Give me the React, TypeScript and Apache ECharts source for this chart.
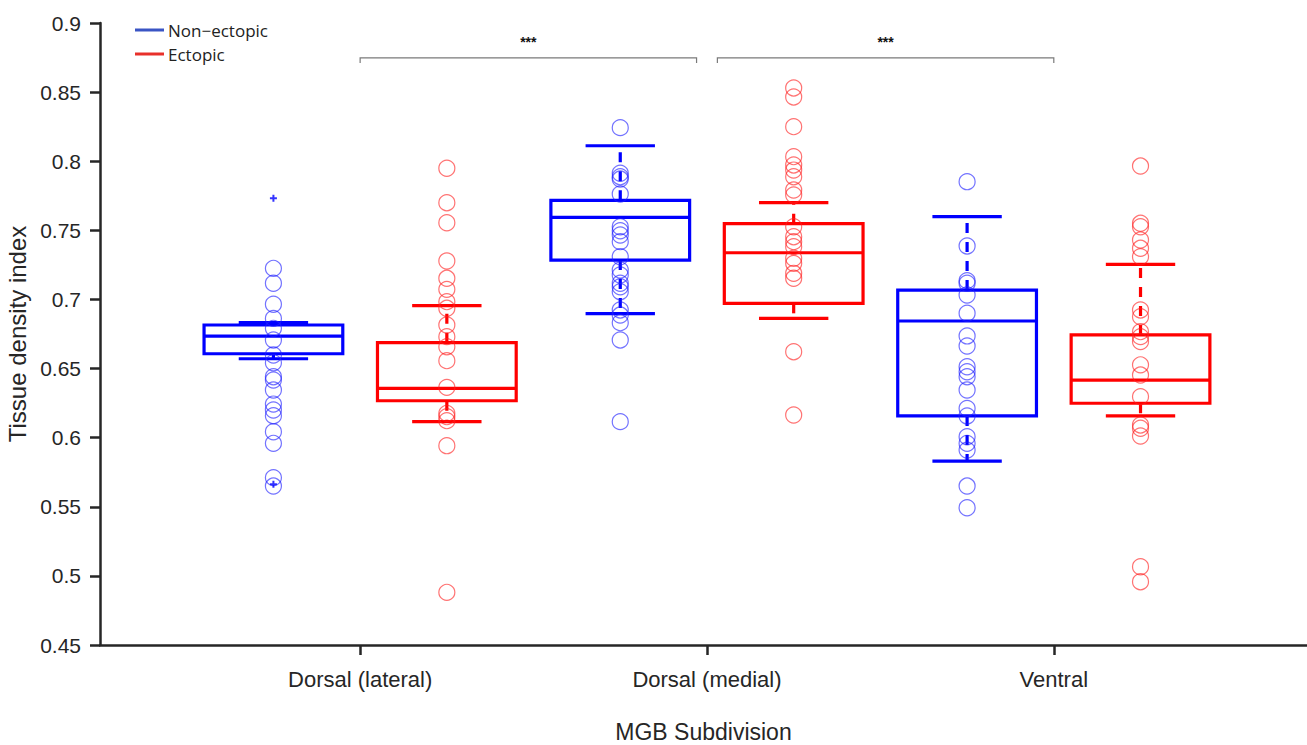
import React, { useEffect, useRef } from "react";
import * as echarts from "echarts";

const categories = ["Dorsal (lateral)", "Dorsal (medial)", "Ventral"];
const groupNames = ["Non\u2212ectopic", "Ectopic"];
const groupOffsets = [-0.25, 0.25];

// per category: [lower whisker, Q1, median, Q3, upper whisker]
const nonEctopicBoxes = [
  [0.6571, 0.6607, 0.6735, 0.6815, 0.6832],
  [0.6897, 0.7285, 0.7594, 0.7717, 0.8112],
  [0.5831, 0.6157, 0.6844, 0.7068, 0.7599],
];
const ectopicBoxes = [
  [0.6116, 0.6267, 0.6357, 0.6687, 0.6955],
  [0.6863, 0.6972, 0.7338, 0.7548, 0.77],
  [0.6157, 0.6249, 0.6417, 0.6743, 0.7254],
];

const nonEctopicOutliers = [[0.7732, 0.5663], [], []];
const ectopicOutliers = [[], [], []];

const nonEctopicDL = [0.7225, 0.7117, 0.6965, 0.6863, 0.6791, 0.6707, 0.6598, 0.6542, 0.6441, 0.6417, 0.6345, 0.6243, 0.62, 0.6159, 0.6043, 0.5959, 0.5711, 0.565];
const nonEctopicDM = [0.8243, 0.7913, 0.7888, 0.7871, 0.7763, 0.7526, 0.7497, 0.7466, 0.7418, 0.7309, 0.7213, 0.7177, 0.7117, 0.7092, 0.7056, 0.6924, 0.6887, 0.6832, 0.6707, 0.6116];
const nonEctopicV = [0.7852, 0.7387, 0.7136, 0.7117, 0.7032, 0.69, 0.6736, 0.6663, 0.6513, 0.6477, 0.6441, 0.6345, 0.6212, 0.6157, 0.6007, 0.5959, 0.591, 0.565, 0.5493];

const ectopicDL = [0.7949, 0.77, 0.7555, 0.7278, 0.7153, 0.7073, 0.6984, 0.6936, 0.6815, 0.6731, 0.6658, 0.6557, 0.6364, 0.6176, 0.6152, 0.6123, 0.5942, 0.4881];
const ectopicDM = [0.853, 0.8465, 0.825, 0.8033, 0.7973, 0.7936, 0.7888, 0.7792, 0.7756, 0.7526, 0.7454, 0.7418, 0.7382, 0.7298, 0.7261, 0.7189, 0.7153, 0.6622, 0.6164];
const ectopicV = [0.7965, 0.7551, 0.7526, 0.743, 0.737, 0.7309, 0.6924, 0.6875, 0.6767, 0.6731, 0.6695, 0.6527, 0.6453, 0.6297, 0.6092, 0.6068, 0.6012, 0.5066, 0.4958];

const nonEctopicPoints = [nonEctopicDL, nonEctopicDM, nonEctopicV];
const ectopicPoints = [ectopicDL, ectopicDM, ectopicV];

// significance brackets (x from, x to, y level, label)
const sigFrom = [1, 2.03];
const sigTo = [1.97, 3];
const sigLevel = [0.8747, 0.8747];
const sigLabel = ["***", "***"];

const yMin = 0.45;
const yMax = 0.9;
const yInterval = 0.05;

const BLUE = "#0000ff";
const RED = "#ff0000";
const BLUE_PT = "rgba(30,30,255,0.78)";
const RED_PT = "rgba(255,30,30,0.78)";

function boxData(boxes: number[][], off: number) {
  return boxes.map((b, i) => [i + 1 + off, ...b]);
}
function pointData(pts: number[][], off: number) {
  const out: number[][] = [];
  pts.forEach((arr, i) => arr.forEach((v) => out.push([i + 1 + off, v])));
  return out;
}

function makeBoxRender(color: string) {
  return (params: any, api: any) => {
    const x = api.value(0);
    const lo = api.value(1);
    const q1 = api.value(2);
    const med = api.value(3);
    const q3 = api.value(4);
    const hi = api.value(5);
    const bw = 0.2;
    const cw = 0.1;
    const tl = api.coord([x - bw, q3]);
    const br = api.coord([x + bw, q1]);
    const mL = api.coord([x - bw, med]);
    const mR = api.coord([x + bw, med]);
    const c = api.coord([x, 0.5]);
    const yLo = api.coord([x, lo])[1];
    const yHi = api.coord([x, hi])[1];
    const cL = api.coord([x - cw, 0.5])[0];
    const cR = api.coord([x + cw, 0.5])[0];
    const lw = 3.2;
    return {
      type: "group",
      children: [
        {
          type: "line",
          shape: { x1: c[0], y1: tl[1], x2: c[0], y2: yHi },
          style: { stroke: color, lineWidth: lw, lineDash: [10, 9] },
        },
        {
          type: "line",
          shape: { x1: c[0], y1: br[1], x2: c[0], y2: yLo },
          style: { stroke: color, lineWidth: lw, lineDash: [10, 9] },
        },
        {
          type: "line",
          shape: { x1: cL, y1: yHi, x2: cR, y2: yHi },
          style: { stroke: color, lineWidth: lw },
        },
        {
          type: "line",
          shape: { x1: cL, y1: yLo, x2: cR, y2: yLo },
          style: { stroke: color, lineWidth: lw },
        },
        {
          type: "rect",
          shape: { x: tl[0], y: tl[1], width: br[0] - tl[0], height: br[1] - tl[1] },
          style: { fill: "none", stroke: color, lineWidth: lw },
        },
        {
          type: "line",
          shape: { x1: mL[0], y1: mL[1], x2: mR[0], y2: mR[1] },
          style: { stroke: color, lineWidth: lw },
        },
      ],
    };
  };
}

const plusSymbol = "path://M0,4L8,4M4,0L4,8";

export default function App() {
  const ref = useRef<HTMLDivElement>(null);
  useEffect(() => {
    if (!ref.current) return;
    const chart = echarts.init(ref.current, undefined, { renderer: "svg" });
    const sigData = sigFrom.map((f, i) => [f, sigTo[i], sigLevel[i], i]);
    const option: any = {
      animation: false,
      backgroundColor: "#ffffff",
      grid: { left: 100, right: 0, top: 23, bottom: 100, outerBoundsMode: "none", containLabel: false },
      legend: {
        orient: "vertical",
        left: 130,
        top: 15,
        itemWidth: 29,
        itemHeight: 3,
        itemGap: 4,
        textStyle: { fontFamily: "Open Sans", fontSize: 17, color: "#222222", lineHeight: 20, padding: [0, 0, 0, -1] },
        data: [
          { name: groupNames[0], icon: "rect", itemStyle: { color: "#3a55c4" } },
          { name: groupNames[1], icon: "rect", itemStyle: { color: "#e8302a" } },
        ],
      },
      xAxis: {
        type: "value",
        min: 0.25,
        max: 3.73,
        splitLine: { show: false },
        axisLine: { show: true, onZero: false, lineStyle: { color: "#262626", width: 2.5 } },
        axisTick: { show: true, customValues: [1, 2, 3], length: 10, lineStyle: { color: "#262626", width: 2.5 } },
        axisLabel: {
          customValues: [1, 2, 3],
          formatter: (v: number) => categories[Math.round(v) - 1] ?? "",
          fontFamily: "Liberation Sans",
          fontSize: 22,
          color: "#262626",
          margin: 23,
        },
        name: "MGB Subdivision",
        nameLocation: "middle",
        nameGap: 75,
        nameTextStyle: { fontFamily: "Liberation Sans", fontSize: 23, lineHeight: 24, color: "#262626" },
      },
      yAxis: {
        type: "value",
        min: yMin,
        max: yMax,
        interval: yInterval,
        splitLine: { show: false },
        axisLine: { show: true, lineStyle: { color: "#262626", width: 2.5 } },
        axisTick: { show: true, length: 10, lineStyle: { color: "#262626", width: 2.5 } },
        axisLabel: {
          fontFamily: "Liberation Sans",
          fontSize: 21,
          color: "#262626",
          margin: 19,
          formatter: (v: number) => String(parseFloat(v.toFixed(2))),
        },
        name: "Tissue density index",
        nameLocation: "middle",
        nameGap: 66,
        nameTextStyle: { fontFamily: "Liberation Sans", fontSize: 24, color: "#262626" },
      },
      series: [
        {
          name: groupNames[0],
          type: "custom",
          renderItem: makeBoxRender(BLUE),
          data: boxData(nonEctopicBoxes, groupOffsets[0]),
          encode: { x: 0, y: [1, 2, 3, 4, 5] },
          itemStyle: { color: "#3a55c4" },
          z: 2,
        },
        {
          name: groupNames[1],
          type: "custom",
          renderItem: makeBoxRender(RED),
          data: boxData(ectopicBoxes, groupOffsets[1]),
          encode: { x: 0, y: [1, 2, 3, 4, 5] },
          itemStyle: { color: "#e8302a" },
          z: 2,
        },
        {
          name: groupNames[0],
          type: "scatter",
          symbol: "circle",
          symbolSize: 16,
          data: pointData(nonEctopicPoints, groupOffsets[0]),
          itemStyle: { color: "none", borderColor: BLUE_PT, borderWidth: 1.2 },
          emphasis: { disabled: true },
          z: 3,
        },
        {
          name: groupNames[1],
          type: "scatter",
          symbol: "circle",
          symbolSize: 16,
          data: pointData(ectopicPoints, groupOffsets[1]),
          itemStyle: { color: "none", borderColor: RED_PT, borderWidth: 1.2 },
          emphasis: { disabled: true },
          z: 3,
        },
        {
          name: groupNames[0],
          type: "scatter",
          symbol: plusSymbol,
          symbolSize: 7,
          data: pointData(nonEctopicOutliers, groupOffsets[0]),
          itemStyle: { color: "none", borderColor: BLUE, borderWidth: 2 },
          emphasis: { disabled: true },
          z: 4,
        },
        {
          name: groupNames[1],
          type: "scatter",
          symbol: plusSymbol,
          symbolSize: 7,
          data: pointData(ectopicOutliers, groupOffsets[1]),
          itemStyle: { color: "none", borderColor: RED, borderWidth: 2 },
          emphasis: { disabled: true },
          z: 4,
        },
        {
          name: "significance",
          type: "custom",
          data: sigData,
          encode: { x: [0, 1], y: 2 },
          clip: false,
          renderItem: (params: any, api: any) => {
            const a = api.coord([api.value(0), api.value(2)]);
            const b = api.coord([api.value(1), api.value(2)]);
            const idx = api.value(3);
            return {
              type: "group",
              children: [
                {
                  type: "polyline",
                  shape: { points: [[a[0], a[1] + 5], [a[0], a[1]], [b[0], b[1]], [b[0], b[1] + 5]] },
                  style: { stroke: "#7a7a7a", lineWidth: 1.2, fill: "none" },
                },
                {
                  type: "text",
                  x: (a[0] + b[0]) / 2,
                  y: a[1] - 16,
                  style: {
                    text: sigLabel[idx],
                    fontFamily: "Liberation Sans",
                    fontSize: 14,
                    fontWeight: "bold",
                    fill: "#111111",
                    align: "center",
                    verticalAlign: "middle",
                  },
                },
              ],
            };
          },
          z: 1,
        },
      ],
    };
    chart.setOption(option);
    return () => chart.dispose();
  }, []);
  return (
    <div
      ref={ref}
      style={{ position: "absolute", left: 0, top: 0, width: 1307, height: 745, background: "#fff" }}
    />
  );
}
